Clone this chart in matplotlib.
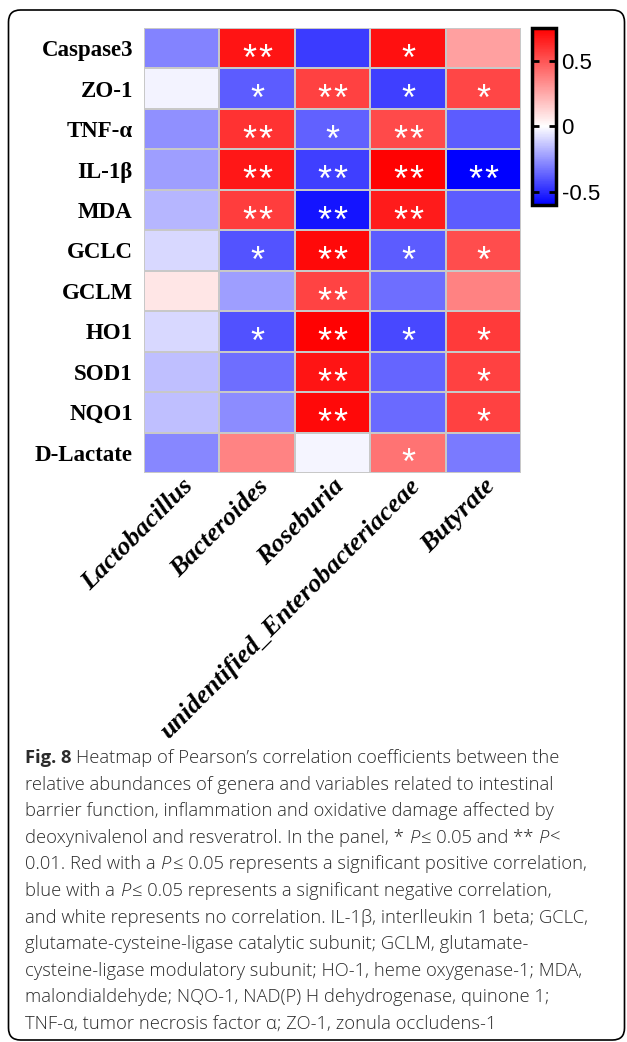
import numpy as np
import matplotlib
matplotlib.use('Agg')
import matplotlib.pyplot as plt
from matplotlib.colors import LinearSegmentedColormap, Normalize
from matplotlib.patches import FancyBboxPatch
from matplotlib.transforms import ScaledTranslation, IdentityTransform

plt.rcParams['axes.unicode_minus'] = False

rows = ['Caspase3', 'ZO-1', 'TNF-α', 'IL-1β', 'MDA', 'GCLC', 'GCLM', 'HO1',
        'SOD1', 'NQO1', 'D-Lactate']
cols = ['Lactobacillus', 'Bacteroides', 'Roseburia',
        'unidentified_Enterobacteriaceae', 'Butyrate']

# Pearson r
r_caspase3 = [-0.29, 0.69, -0.46, 0.70, 0.28]
r_zo1 = [-0.03, -0.38, 0.56, -0.45, 0.54]
r_tnf = [-0.26, 0.60, -0.37, 0.53, -0.38]
r_il1b = [-0.23, 0.68, -0.45, 0.74, -0.60]
r_mda = [-0.17, 0.57, -0.55, 0.67, -0.38]
r_gclc = [-0.09, -0.40, 0.72, -0.38, 0.52]
r_gclm = [0.07, -0.23, 0.55, -0.34, 0.37]
r_ho1 = [-0.09, -0.41, 0.74, -0.43, 0.58]
r_sod1 = [-0.15, -0.34, 0.69, -0.36, 0.56]
r_nqo1 = [-0.15, -0.27, 0.72, -0.35, 0.56]
r_dlac = [-0.28, 0.36, -0.02, 0.41, -0.31]

stars = [
    ['', '**', '', '*', ''],
    ['', '*', '**', '*', '*'],
    ['', '**', '*', '**', ''],
    ['', '**', '**', '**', '**'],
    ['', '**', '**', '**', ''],
    ['', '*', '**', '*', '*'],
    ['', '', '**', '', ''],
    ['', '*', '**', '*', '*'],
    ['', '', '**', '', '*'],
    ['', '', '**', '', '*'],
    ['', '', '', '*', ''],
]

cbar_ticks = [-0.5, 0, 0.5]
cbar_labels = ['-0.5', '0', '0.5']

vals = np.array([r_caspase3, r_zo1, r_tnf, r_il1b, r_mda, r_gclc, r_gclm,
                 r_ho1, r_sod1, r_nqo1, r_dlac])

W, H = 627, 1042
fig = plt.figure(figsize=(W / 100, H / 100), dpi=100)

vmin, vmax = -0.6, 0.75
cmap = LinearSegmentedColormap.from_list(
    'bwr2', [(0, '#0000ff'), (-vmin / (vmax - vmin), '#ffffff'), (1, '#ff0000')])
norm = Normalize(vmin=vmin, vmax=vmax)

top, bot, left, right = 28, 473, 144, 521
ax = fig.add_axes([left / W, 1 - bot / H, (right - left) / W, (bot - top) / H])
mesh = ax.pcolormesh(vals, cmap=cmap, norm=norm, edgecolors='#c8c8c8', linewidth=1.1)
ax.set_xlim(0, len(cols))
ax.set_ylim(len(rows), 0)
for s in ax.spines.values():
    s.set_visible(False)

ax.set_yticks(np.arange(len(rows)) + 0.5)
ax.set_yticklabels(rows, fontfamily='Liberation Serif', fontweight='bold', fontsize=16.5)
ax.set_xticks(np.arange(len(cols)) + 0.5)
ax.set_xticklabels(cols, fontfamily='Liberation Serif', fontweight='bold',
                   fontstyle='italic', fontsize=19, rotation=45, ha='right',
                   rotation_mode='anchor')
ax.tick_params(axis='y', length=0, pad=8)
ax.tick_params(axis='x', length=0, pad=1)

# significance asterisks, drawn one glyph at a time so the pair is spaced
star_fs = 26
for i in range(len(rows)):
    for j in range(len(cols)):
        n = len(stars[i][j])
        for k in range(n):
            dx = (k - (n - 1) / 2) * 16 / 100
            off = ScaledTranslation(dx, -0.6 * star_fs / 72, fig.dpi_scale_trans)
            ax.text(j + 0.5, i + 0.5, '*', transform=ax.transData + off,
                    ha='center', va='baseline', color='white', fontsize=star_fs,
                    fontfamily='Liberation Sans')

cax = fig.add_axes([532 / W, 1 - 205 / H, 24 / W, 177 / H])
cb = fig.colorbar(mesh, cax=cax, ticks=cbar_ticks)
cb.set_ticklabels(cbar_labels)
cb.outline.set_linewidth(2.5)
cax.yaxis.set_ticks_position('both')
cax.tick_params(direction='in', length=5, width=2, labelsize=16, pad=4,
                labelleft=False, labelright=True)
for t in cax.get_yticklabels():
    t.set_fontfamily('Liberation Sans')

# caption
cap_font = ['Open Sans', 'DejaVu Sans']
cap_color = '#2b2b2b'
cap_fs = 13.2
N, B, I = 'normal', 'bold', 'italic'
caption = [
    [('Fig. 8', B), (' Heatmap of Pearson’s correlation coefficients between the', N)],
    [('relative abundances of genera and variables related to intestinal', N)],
    [('barrier function, inflammation and oxidative damage affected by', N)],
    [('deoxynivalenol and resveratrol. In the panel, * ', N), ('P', I),
     ('≤ 0.05 and ** ', N), ('P', I), ('<', N)],
    [('0.01. Red with a ', N), ('P', I),
     ('≤ 0.05 represents a significant positive correlation,', N)],
    [('blue with a ', N), ('P', I),
     ('≤ 0.05 represents a significant negative correlation,', N)],
    [('and white represents no correlation. IL-1β, interlleukin 1 beta; GCLC,', N)],
    [('glutamate-cysteine-ligase catalytic subunit; GCLM, glutamate-', N)],
    [('cysteine-ligase modulatory subunit; HO-1, heme oxygenase-1; MDA,', N)],
    [('malondialdehyde; NQO-1, NAD(P) H dehydrogenase, quinone 1;', N)],
    [('TNF-α, tumor necrosis factor α; ZO-1, zonula occludens-1', N)],
]

renderer = fig.canvas.get_renderer()
probe = fig.text(0, 0, 'a a', fontsize=cap_fs, fontfamily=cap_font)
w_sp = probe.get_window_extent(renderer).width
probe.set_text('aa')
w_sp -= probe.get_window_extent(renderer).width
probe.remove()

x0, y0, dy = 25, 763, 26.6
for k, line in enumerate(caption):
    x = x0
    y = y0 + k * dy
    for txt, sty in line:
        lead = len(txt) - len(txt.lstrip(' '))
        trail = len(txt) - len(txt.rstrip(' '))
        x += lead * w_sp
        core = txt.strip(' ')
        t = fig.text(x / W, 1 - y / H, core, fontsize=cap_fs, fontfamily=cap_font,
                     color=cap_color, va='baseline', ha='left',
                     fontweight='bold' if sty == B else 'light',
                     fontstyle='italic' if sty == I else 'normal')
        x += t.get_window_extent(renderer).width + trail * w_sp
        if sty == I:
            x += 0.4 * w_sp

border = FancyBboxPatch((8.5, H - 1040), 616, 1030,
                        boxstyle='round,pad=0,rounding_size=12',
                        transform=IdentityTransform(), fill=False,
                        lw=1.2, ec='black')
fig.add_artist(border)

fig.savefig('out.png', dpi=100)
